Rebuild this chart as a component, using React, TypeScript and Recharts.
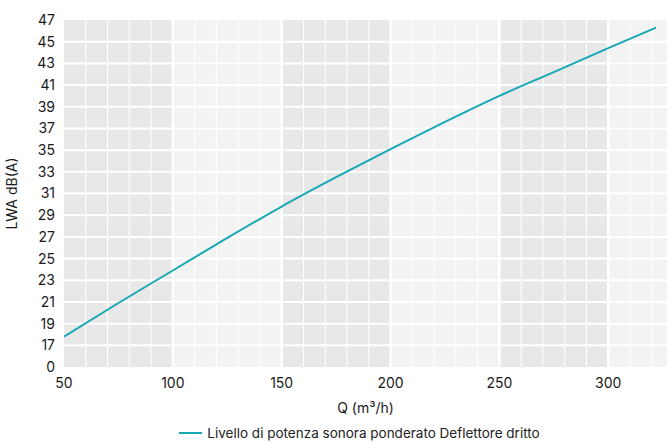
import { LineChart, Line, XAxis, YAxis, ReferenceArea, ReferenceLine, Legend } from 'recharts'

const flow = [50, 75, 100, 125, 150, 175, 200, 225, 250, 275, 300, 322]
const lwa = [17.8, 20.9, 23.9, 26.9, 29.8, 32.5, 35.1, 37.6, 40.0, 42.2, 44.4, 46.3]
const xTicks = [50, 100, 150, 200, 250, 300]
const yTicks = [15, 17, 19, 21, 23, 25, 27, 29, 31, 33, 35, 37, 39, 41, 43, 45, 47]
const darkBands = [[50, 100], [150, 200], [250, 300]]
const minorLines = [60, 70, 80, 90, 110, 120, 130, 140, 160, 170, 180, 190, 210, 220, 230, 240, 260, 270, 280, 290, 310, 320]
const majorLines = [100, 150, 200, 250, 300]
const seriesName = 'Livello di potenza sonora ponderato Deflettore dritto'

const data = flow.map((q, i) => ({ q, lwa: lwa[i] }))

const FONT = 'Inter, "Noto Sans", sans-serif'
const LINE_COLOR = '#17a8b5'

function LegendContent() {
  return (
    <div style={{ display: 'flex', justifyContent: 'center', alignItems: 'center', fontFamily: FONT, fontSize: 13.5, color: '#222', paddingTop: 8, paddingLeft: 52 }}>
      <span style={{ display: 'inline-block', width: 23, height: 2, background: LINE_COLOR, marginRight: 5 }} />
      <span>{seriesName}</span>
    </div>
  )
}

export default function App() {
  return (
    <div style={{ position: 'absolute', left: 0, top: 0, background: '#fff' }}>
      <LineChart width={667} height={443} data={data} margin={{ top: 20, right: 0, left: 0, bottom: 0 }}>
        <ReferenceArea x1={50} x2={327} y1={15} y2={47} fill="#f3f3f3" fillOpacity={1} stroke="none" ifOverflow="hidden" />
        {darkBands.map(([a, b]) => (
          <ReferenceArea key={a} x1={a} x2={b} y1={15} y2={47} fill="#e8e8e8" fillOpacity={1} stroke="none" />
        ))}
        {minorLines.map((v) => (
          <ReferenceLine key={v} x={v} stroke="#ffffff" strokeWidth={1} />
        ))}
        {yTicks.slice(1, -1).map((v) => (
          <ReferenceLine key={'y' + v} y={v} stroke="#ffffff" strokeWidth={2} />
        ))}
        {majorLines.map((v) => (
          <ReferenceLine key={'m' + v} x={v} stroke="#ffffff" strokeWidth={2.5} />
        ))}
        <XAxis
          dataKey="q"
          type="number"
          domain={[50, 327]}
          ticks={xTicks}
          allowDataOverflow
          axisLine={false}
          tickLine={false}
          tickSize={0}
          tickMargin={11}
          height={50}
          tick={{ fill: '#1a1a1a', fontSize: 14, fontFamily: FONT }}
          label={{ value: 'Q (m³/h)', position: 'insideBottom', offset: 4, fill: '#1a1a1a', fontSize: 14, fontFamily: FONT }}
        />
        <YAxis
          type="number"
          domain={[15, 47]}
          ticks={yTicks}
          interval={0}
          allowDataOverflow
          axisLine={false}
          tickLine={false}
          tickSize={0}
          tickMargin={9}
          width={64}
          tickFormatter={(v: number) => (v === 15 ? '0' : String(v))}
          tick={{ fill: '#1a1a1a', fontSize: 14, fontFamily: FONT }}
          label={{ value: 'LWA dB(A)', angle: -90, position: 'insideLeft', offset: 12, fill: '#1a1a1a', fontSize: 14, fontFamily: FONT, style: { textAnchor: 'middle' } }}
        />
        <Legend verticalAlign="bottom" height={26} content={<LegendContent />} />
        <Line
          type="monotone"
          dataKey="lwa"
          name={seriesName}
          stroke={LINE_COLOR}
          strokeWidth={2}
          dot={false}
          isAnimationActive={false}
        />
      </LineChart>
    </div>
  )
}
